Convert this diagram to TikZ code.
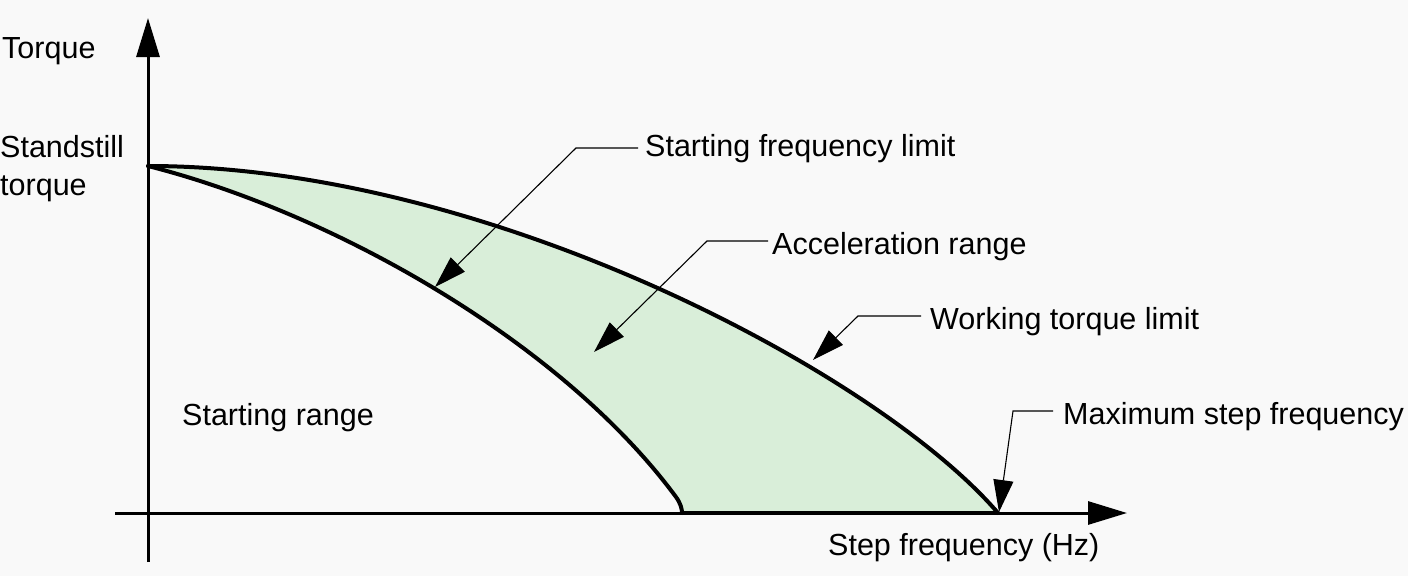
\documentclass[tikz,border=0pt]{standalone}
\usepackage{fontspec}
\setmainfont{Liberation Sans}
\usetikzlibrary{arrows.meta}
\definecolor{bgcol}{RGB}{249,249,249}
\definecolor{rangefill}{RGB}{217,238,217}
\tikzset{
  lbl/.style={font=\fontsize{30.5}{36}\selectfont, inner sep=0pt, anchor=base west, text=black},
  axisline/.style={line width=3pt, -{Triangle[length=39pt,width=23pt]}},
  curveline/.style={line width=4pt, line cap=round, line join=round},
  leader/.style={line width=1.1pt, -{Triangle[length=32pt,width=20pt]}},
}
\begin{document}
\begin{tikzpicture}[x=1pt,y=-1pt]
\fill[bgcol] (0,0) rectangle (1408,576);
\useasboundingbox (0,0) rectangle (1408,576);

% key coordinates
\coordinate (S) at (148,166);
\coordinate (M) at (998,513);
\coordinate (L) at (682,513);
\coordinate (K) at (676,497);

% filled acceleration range
\fill[rangefill] (S) .. controls (490,166) and (880,375) .. (M) -- (L)
  .. controls (682,509) and (680.6,503.3) .. (K)
  .. controls (560,340) and (330,212) .. (S) -- cycle;

% axes
\coordinate (yb) at (148,562);
\coordinate (yt) at (148,18);
\coordinate (xl) at (115,513);
\coordinate (xr) at (1127,513);
\draw[axisline] (yb) -- (yt);
\draw[axisline] (xl) -- (xr);

% curves
\draw[curveline] (S) .. controls (490,166) and (880,375) .. (M);
\draw[curveline] (S) .. controls (330,212) and (560,340) .. (K)
  .. controls (680.6,503.3) and (682,509) .. (L);
\draw[line width=4pt] (L) -- (M);

% labels
\node[lbl] (torque) at (2,58) {Torque};
\node[lbl] (stand1) at (0,157) {Standstill};
\node[lbl] (stand2) at (0,195) {torque};
\node[lbl] (srange) at (182,425) {Starting range};
\node[lbl] (xlab) at (828,555) {Step frequency (Hz)};
\node[lbl] (sfl) at (645,156) {Starting frequency limit};
\node[lbl] (acc) at (772,254) {Acceleration range};
\node[lbl] (wtl) at (930,329) {Working torque limit};
\node[lbl] (msf) at (1063,424) {Maximum step frequency};

% leaders
\coordinate (b1) at (576,148);
\coordinate (t1) at (435,287);
\coordinate (b2) at (707,241);
\coordinate (t2) at (594,352);
\coordinate (b3) at (858,316);
\coordinate (t3) at (813,360);
\coordinate (b4) at (1013,411);
\coordinate (t4) at (999,512);
\draw[leader] ([xshift=-7pt]sfl.west |- b1) -- (b1) -- (t1);
\draw[leader] ([xshift=-4pt]acc.west |- b2) -- (b2) -- (t2);
\draw[leader] ([xshift=-9pt]wtl.west |- b3) -- (b3) -- (t3);
\draw[leader] ([xshift=-10pt]msf.west |- b4) -- (b4) -- (t4);
\end{tikzpicture}
\end{document}
